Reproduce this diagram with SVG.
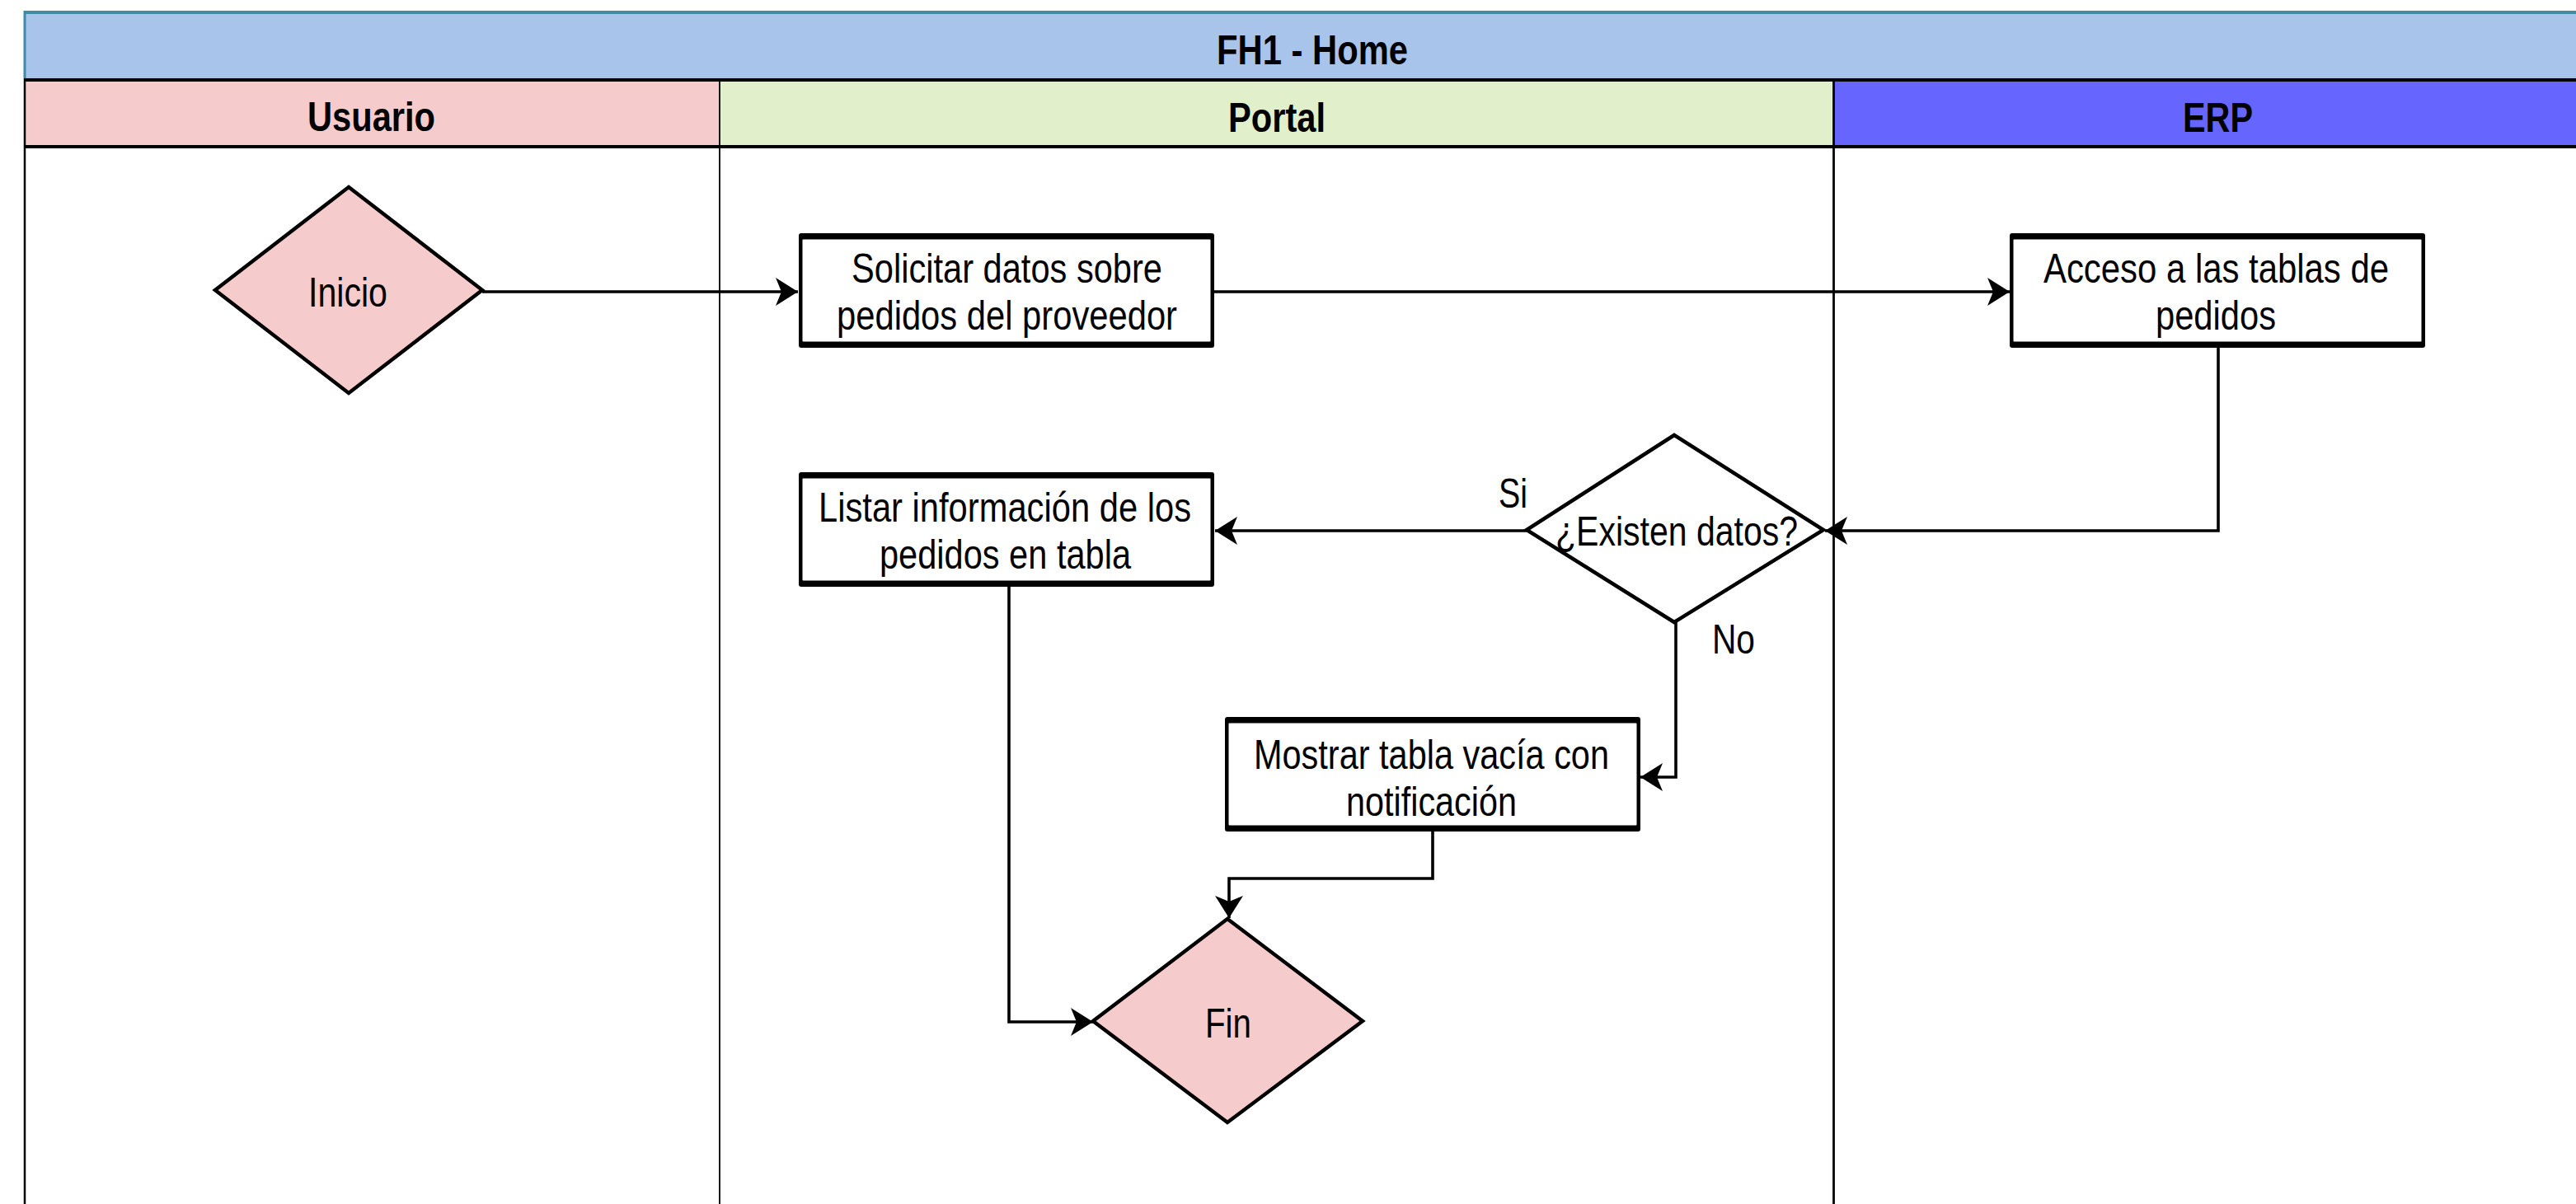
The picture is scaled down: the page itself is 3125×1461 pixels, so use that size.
<svg xmlns="http://www.w3.org/2000/svg" width="3125" height="1461" viewBox="0 0 3125 1461">
  <style>
    .t { font-family: "Liberation Sans", Arial, sans-serif; font-size: 50px; fill: #000; }
    .b { font-weight: bold; }
    .conn { fill: none; stroke: #000; stroke-width: 3.6; marker-end: url(#arrow); }
    .dia { stroke: #000; stroke-width: 4.5; stroke-linejoin: miter; }
    .pink { fill: #F6CBCC; }
    .white { fill: #FFFFFF; }
    .boxo { fill: #000; }
    .boxi { fill: #FFFFFF; }
  </style>
  <defs>
    <marker id="arrow" markerUnits="userSpaceOnUse" markerWidth="30" markerHeight="36" viewBox="0 0 30 36" refX="27" refY="18" orient="auto">
      <path d="M0,1 L27,18 L0,35 L7,18 Z" fill="#000"/>
    </marker>
  </defs>
  <rect width="3125" height="1461" fill="#FFFFFF"/>

  <g id="pool">
    <rect x="30" y="15" width="3120" height="82" fill="#A9C4EB"/>
    <line x1="29" y1="15" x2="3150" y2="15" stroke="#3D8BA8" stroke-width="4"/>
    <line x1="30" y1="13" x2="30" y2="97" stroke="#3D8BA8" stroke-width="3"/>
    <text class="t b" x="1476" y="78" textLength="232" lengthAdjust="spacingAndGlyphs">FH1 - Home</text>
  </g>

  <g id="lane-usuario">
    <rect x="30" y="97" width="843" height="81" fill="#F6CBCC"/>
    <text class="t b" x="373" y="159" textLength="155" lengthAdjust="spacingAndGlyphs">Usuario</text>
  </g>
  <g id="lane-portal">
    <rect x="873" y="97" width="1351" height="81" fill="#E1EFCA"/>
    <text class="t b" x="1490" y="160" textLength="118" lengthAdjust="spacingAndGlyphs">Portal</text>
  </g>
  <g id="lane-erp">
    <rect x="2224" y="97" width="926" height="81" fill="#6666FF"/>
    <text class="t b" x="2648" y="160" textLength="85" lengthAdjust="spacingAndGlyphs">ERP</text>
  </g>

  <g id="lane-lines">
    <line x1="29" y1="97" x2="3150" y2="97" stroke="#000" stroke-width="4"/>
    <line x1="29" y1="178" x2="3150" y2="178" stroke="#000" stroke-width="4"/>
    <line x1="30" y1="97" x2="30" y2="1461" stroke="#000" stroke-width="2.5"/>
    <line x1="873" y1="97" x2="873" y2="1461" stroke="#000" stroke-width="1.8"/>
    <line x1="2224.5" y1="97" x2="2224.5" y2="1461" stroke="#000" stroke-width="2.8"/>
  </g>

  <g id="connectors">
    <path class="conn" d="M585,354 H968"/>
    <path class="conn" d="M1473,354 H2438"/>
    <path class="conn" d="M2691,422 V644 H2214"/>
    <path class="conn" d="M1852,644 H1474"/>
    <path class="conn" d="M2033,755 V943 H1990"/>
    <path class="conn" d="M1224,712 V1240 H1326"/>
    <path class="conn" d="M1738,1009 V1066 H1491 V1114"/>
    <text class="t" x="1818" y="616" textLength="35" lengthAdjust="spacingAndGlyphs">Si</text>
    <text class="t" x="2077" y="793" textLength="52" lengthAdjust="spacingAndGlyphs">No</text>
  </g>

  <g id="inicio">
    <polygon class="dia pink" points="423,227 585,352 423,477 261,352"/>
    <text class="t" x="374" y="372" textLength="96" lengthAdjust="spacingAndGlyphs">Inicio</text>
  </g>

  <g id="solicitar">
    <rect class="boxo" x="969" y="283" width="504" height="139" rx="3"/>
    <rect class="boxi" x="973.5" y="290.5" width="495" height="124" rx="1"/>
    <text class="t" x="1033" y="343" textLength="377" lengthAdjust="spacingAndGlyphs">Solicitar datos sobre</text>
    <text class="t" x="1015" y="400" textLength="413" lengthAdjust="spacingAndGlyphs">pedidos del proveedor</text>
  </g>

  <g id="acceso">
    <rect class="boxo" x="2438" y="283" width="504" height="139" rx="3"/>
    <rect class="boxi" x="2442.5" y="290.5" width="495" height="124" rx="1"/>
    <text class="t" x="2479" y="343" textLength="419" lengthAdjust="spacingAndGlyphs">Acceso a las tablas de</text>
    <text class="t" x="2615" y="400" textLength="146" lengthAdjust="spacingAndGlyphs">pedidos</text>
  </g>

  <g id="existen">
    <polygon class="dia white" points="2031,528 2212,643 2031,755 1852,643"/>
    <text class="t" x="1887" y="662" textLength="294" lengthAdjust="spacingAndGlyphs">¿Existen datos?</text>
  </g>

  <g id="listar">
    <rect class="boxo" x="969" y="573" width="504" height="139" rx="3"/>
    <rect class="boxi" x="973.5" y="580.5" width="495" height="124" rx="1"/>
    <text class="t" x="993" y="633" textLength="452" lengthAdjust="spacingAndGlyphs">Listar información de los</text>
    <text class="t" x="1067" y="690" textLength="305" lengthAdjust="spacingAndGlyphs">pedidos en tabla</text>
  </g>

  <g id="mostrar">
    <rect class="boxo" x="1486" y="870" width="504" height="139" rx="3"/>
    <rect class="boxi" x="1490.5" y="877.5" width="495" height="124" rx="1"/>
    <text class="t" x="1521" y="933" textLength="431" lengthAdjust="spacingAndGlyphs">Mostrar tabla vacía con</text>
    <text class="t" x="1633" y="990" textLength="207" lengthAdjust="spacingAndGlyphs">notificación</text>
  </g>

  <g id="fin">
    <polygon class="dia pink" points="1489,1115 1653,1239 1489,1362 1326,1239"/>
    <text class="t" x="1462" y="1259" textLength="56" lengthAdjust="spacingAndGlyphs">Fin</text>
  </g>
</svg>
